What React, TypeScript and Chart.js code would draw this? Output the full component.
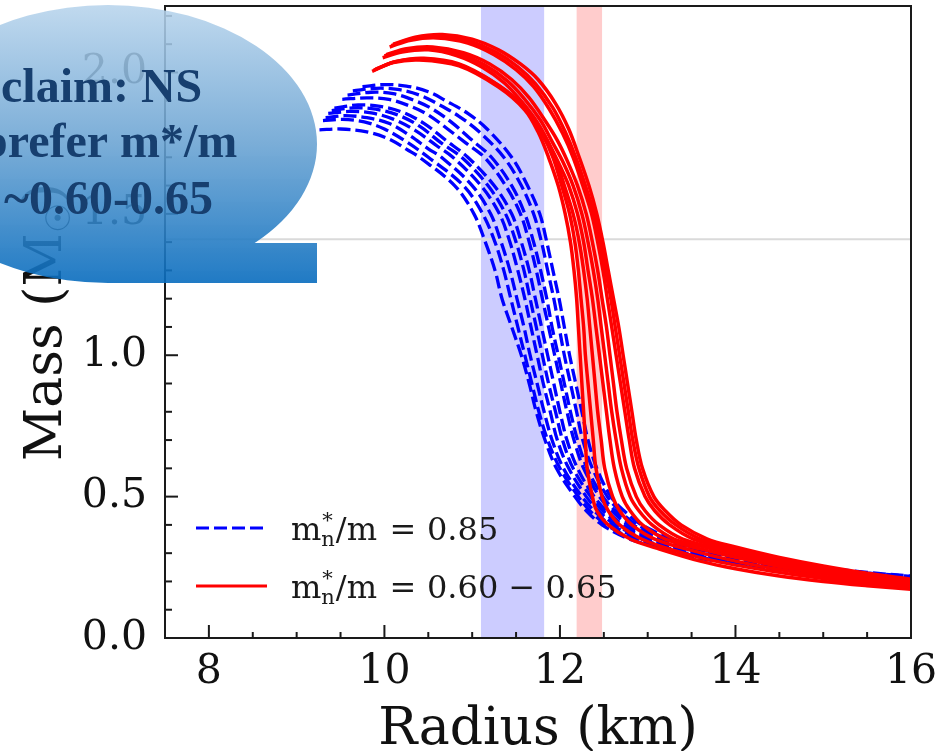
import React, { useEffect, useRef } from "react";
import { Chart, registerables } from "chart.js";

Chart.register(...registerables);

type Pt = [number, number];

// Mass-radius sequences (radius in km, mass in solar masses), m*_n/m = 0.85
const blue1: Pt[] = [
  [9.75, 1.95], [10.0, 1.957], [10.25, 1.952], [10.5, 1.932], [10.7, 1.9], [10.95, 1.855], [11.17, 1.8],
  [11.45, 1.7], [11.63, 1.6], [11.77, 1.5], [11.85, 1.4], [11.92, 1.3], [11.99, 1.2], [12.05, 1.1],
  [12.11, 1.0], [12.18, 0.9], [12.25, 0.8], [12.32, 0.7], [12.42, 0.6], [12.58, 0.5], [12.73, 0.45],
  [12.93, 0.4], [13.5, 0.322], [14.0, 0.29], [14.5, 0.267], [15.0, 0.248], [15.5, 0.232], [16.0, 0.219],
];
const blue2: Pt[] = [
  [9.64, 1.935], [9.9, 1.944], [10.15, 1.94], [10.4, 1.92], [10.6, 1.89], [10.85, 1.845], [11.08, 1.79],
  [11.36, 1.7], [11.56, 1.6], [11.7, 1.5], [11.79, 1.4], [11.86, 1.3], [11.93, 1.2], [11.99, 1.1],
  [12.05, 1.0], [12.12, 0.9], [12.19, 0.8], [12.26, 0.7], [12.37, 0.6], [12.54, 0.5], [12.68, 0.45],
  [12.88, 0.4], [13.5, 0.318], [14.0, 0.287], [14.5, 0.264], [15.0, 0.246], [15.5, 0.23], [16.0, 0.218],
];
const blue3: Pt[] = [
  [9.58, 1.92], [9.85, 1.93], [10.1, 1.925], [10.35, 1.9], [10.55, 1.87], [10.78, 1.82], [11.0, 1.76],
  [11.22, 1.7], [11.45, 1.6], [11.6, 1.5], [11.7, 1.4], [11.78, 1.3], [11.85, 1.2], [11.91, 1.1],
  [11.98, 1.0], [12.05, 0.9], [12.12, 0.8], [12.2, 0.7], [12.31, 0.6], [12.49, 0.5], [12.63, 0.45],
  [12.83, 0.4], [13.5, 0.314], [14.0, 0.284], [14.5, 0.262], [15.0, 0.244], [15.5, 0.229], [16.0, 0.216],
];
const blue4: Pt[] = [
  [9.52, 1.905], [9.8, 1.91], [10.05, 1.905], [10.3, 1.88], [10.5, 1.85], [10.72, 1.8], [10.93, 1.75],
  [11.14, 1.7], [11.38, 1.6], [11.55, 1.5], [11.65, 1.4], [11.73, 1.3], [11.8, 1.2], [11.87, 1.1],
  [11.94, 1.0], [12.01, 0.9], [12.08, 0.8], [12.16, 0.7], [12.27, 0.6], [12.45, 0.5], [12.59, 0.45],
  [12.78, 0.4], [13.0, 0.367], [13.5, 0.311], [14.0, 0.281], [14.5, 0.259], [15.0, 0.242], [15.5, 0.227],
  [16.0, 0.215],
];
const blue5: Pt[] = [
  [9.43, 1.874], [9.7, 1.885], [9.95, 1.88], [10.2, 1.86], [10.45, 1.82], [10.7, 1.76],
  [10.95, 1.7], [11.25, 1.6], [11.45, 1.5], [11.56, 1.4], [11.65, 1.3], [11.72, 1.2], [11.79, 1.1],
  [11.86, 1.0], [11.93, 0.9], [12.0, 0.8], [12.08, 0.7], [12.2, 0.6], [12.39, 0.5], [12.53, 0.45],
  [12.72, 0.4], [13.0, 0.36], [13.5, 0.307], [14.0, 0.278], [14.5, 0.256], [15.0, 0.24], [15.5, 0.226],
  [16.0, 0.213],
];
const blue6: Pt[] = [
  [9.4, 1.865], [9.65, 1.875], [9.9, 1.87], [10.15, 1.85], [10.4, 1.81], [10.65, 1.75],
  [10.88, 1.7], [11.18, 1.6], [11.38, 1.5], [11.5, 1.4], [11.59, 1.3], [11.66, 1.2], [11.73, 1.1],
  [11.8, 1.0], [11.87, 0.9], [11.95, 0.8], [12.03, 0.7], [12.15, 0.6], [12.35, 0.5], [12.49, 0.45],
  [12.68, 0.4], [13.0, 0.354], [13.5, 0.303], [14.0, 0.275], [14.5, 0.254], [15.0, 0.238], [15.5, 0.224],
  [16.0, 0.212],
];
const blue7: Pt[] = [
  [9.36, 1.855], [9.6, 1.862], [9.85, 1.857], [10.1, 1.835], [10.35, 1.795], [10.6, 1.74],
  [10.78, 1.7], [11.1, 1.6], [11.31, 1.5], [11.43, 1.4], [11.52, 1.3], [11.6, 1.2], [11.67, 1.1],
  [11.74, 1.0], [11.81, 0.9], [11.89, 0.8], [11.97, 0.7], [12.1, 0.6], [12.3, 0.5], [12.44, 0.45],
  [12.63, 0.4], [13.0, 0.348], [13.5, 0.299], [14.0, 0.272], [14.5, 0.251], [15.0, 0.236], [15.5, 0.222],
  [16.0, 0.21],
];
const blue8: Pt[] = [
  [9.33, 1.84], [9.55, 1.847], [9.8, 1.84], [10.05, 1.82], [10.3, 1.775], [10.5, 1.73],
  [10.65, 1.7], [11.0, 1.6], [11.21, 1.5], [11.33, 1.4], [11.43, 1.3], [11.51, 1.2], [11.59, 1.1],
  [11.66, 1.0], [11.74, 0.9], [11.82, 0.8], [11.91, 0.7], [12.04, 0.6], [12.25, 0.5], [12.39, 0.45],
  [12.58, 0.4], [13.0, 0.342], [13.5, 0.296], [14.0, 0.268], [14.5, 0.248], [15.0, 0.234], [15.5, 0.22],
  [16.0, 0.208],
];
const blue9: Pt[] = [
  [9.3, 1.83], [9.52, 1.834], [9.77, 1.825], [10.0, 1.8], [10.25, 1.755],
  [10.5, 1.7], [10.9, 1.6], [11.12, 1.5], [11.26, 1.4], [11.36, 1.3], [11.44, 1.2], [11.52, 1.1],
  [11.6, 1.0], [11.68, 0.9], [11.76, 0.8], [11.86, 0.7], [12.0, 0.6], [12.21, 0.5], [12.34, 0.45],
  [12.53, 0.4], [12.77, 0.36], [13.0, 0.336], [13.5, 0.292], [14.0, 0.265], [14.5, 0.246], [15.0, 0.232],
  [15.5, 0.219], [16.0, 0.207],
];
const blue10: Pt[] = [
  [9.26, 1.797], [9.5, 1.8], [9.8, 1.79], [10.05, 1.765], [10.27, 1.725],
  [10.4, 1.7], [10.8, 1.6], [11.02, 1.5], [11.15, 1.4], [11.26, 1.3], [11.34, 1.2], [11.45, 1.1],
  [11.56, 1.0], [11.65, 0.9], [11.73, 0.8], [11.83, 0.7], [11.96, 0.6], [12.17, 0.5], [12.3, 0.45],
  [12.48, 0.4], [12.75, 0.355], [13.0, 0.33], [13.5, 0.288], [14.0, 0.262], [14.5, 0.243], [15.0, 0.23],
  [15.5, 0.217], [16.0, 0.205],
];

// Mass-radius sequences, m*_n/m = 0.60 - 0.65
const red1: Pt[] = [
  [10.1, 2.1], [10.35, 2.125], [10.66, 2.134], [11.0, 2.118], [11.3, 2.08], [11.55, 2.03], [11.75, 1.975],
  [11.95, 1.89], [12.1, 1.8], [12.22, 1.7], [12.33, 1.6], [12.42, 1.5], [12.49, 1.4], [12.55, 1.3],
  [12.61, 1.2], [12.67, 1.1], [12.72, 1.0], [12.77, 0.9], [12.82, 0.8], [12.87, 0.7], [12.94, 0.6],
  [13.07, 0.5], [13.2, 0.45], [13.38, 0.4], [13.68, 0.35], [14.0, 0.322], [14.5, 0.285], [15.0, 0.255],
  [15.5, 0.229], [16.0, 0.208],
];
const red2: Pt[] = [
  [10.08, 2.095], [10.33, 2.12], [10.64, 2.128], [10.98, 2.11], [11.28, 2.07], [11.52, 2.02], [11.72, 1.96],
  [11.92, 1.875], [12.06, 1.79], [12.18, 1.7], [12.29, 1.6], [12.39, 1.5], [12.46, 1.4], [12.52, 1.3],
  [12.58, 1.2], [12.63, 1.1], [12.68, 1.0], [12.73, 0.9], [12.78, 0.8], [12.83, 0.7], [12.9, 0.6],
  [13.02, 0.5], [13.14, 0.45], [13.32, 0.4], [13.6, 0.35], [14.0, 0.317], [14.5, 0.281], [15.0, 0.251],
  [15.5, 0.226], [16.0, 0.205],
];
const red3: Pt[] = [
  [10.06, 2.09], [10.3, 2.114], [10.6, 2.122], [10.95, 2.104], [11.25, 2.063], [11.5, 2.01], [11.7, 1.95],
  [11.88, 1.87], [12.03, 1.785], [12.15, 1.7], [12.26, 1.6], [12.36, 1.5], [12.43, 1.4], [12.49, 1.3],
  [12.54, 1.2], [12.59, 1.1], [12.64, 1.0], [12.69, 0.9], [12.74, 0.8], [12.79, 0.7], [12.85, 0.6],
  [12.97, 0.5], [13.08, 0.45], [13.25, 0.4], [13.52, 0.35], [14.0, 0.311], [14.5, 0.276], [15.0, 0.247],
  [15.5, 0.222], [16.0, 0.202],
];
const red4: Pt[] = [
  [10.02, 2.063], [10.25, 2.084], [10.55, 2.09], [10.9, 2.07], [11.2, 2.03], [11.45, 1.975], [11.65, 1.91],
  [11.83, 1.83], [11.97, 1.76], [12.08, 1.69], [12.2, 1.6], [12.3, 1.5], [12.37, 1.4], [12.43, 1.3],
  [12.48, 1.2], [12.53, 1.1], [12.57, 1.0], [12.61, 0.9], [12.65, 0.8], [12.7, 0.7], [12.76, 0.6],
  [12.87, 0.5], [12.97, 0.45], [13.13, 0.4], [13.4, 0.35], [14.0, 0.302], [14.5, 0.268], [15.0, 0.24],
  [15.5, 0.216], [16.0, 0.197],
];
const red5: Pt[] = [
  [10.0, 2.058], [10.22, 2.078], [10.52, 2.085], [10.85, 2.066], [11.15, 2.025], [11.4, 1.97], [11.6, 1.905],
  [11.78, 1.83], [11.92, 1.75], [12.04, 1.68], [12.15, 1.6], [12.25, 1.5], [12.32, 1.4], [12.38, 1.3],
  [12.43, 1.2], [12.47, 1.1], [12.51, 1.0], [12.55, 0.9], [12.59, 0.8], [12.64, 0.7], [12.7, 0.6],
  [12.8, 0.5], [12.9, 0.45], [13.05, 0.4], [13.3, 0.35], [13.6, 0.325], [14.0, 0.295], [14.5, 0.262],
  [15.0, 0.235], [15.5, 0.212], [16.0, 0.193],
];
const red6: Pt[] = [
  [9.98, 2.052], [10.2, 2.072], [10.5, 2.08], [10.82, 2.06], [11.12, 2.018], [11.37, 1.962], [11.57, 1.895],
  [11.75, 1.82], [11.89, 1.74], [12.0, 1.67], [12.1, 1.6], [12.2, 1.5], [12.27, 1.4], [12.32, 1.3],
  [12.37, 1.2], [12.41, 1.1], [12.45, 1.0], [12.49, 0.9], [12.53, 0.8], [12.57, 0.7], [12.62, 0.6],
  [12.71, 0.5], [12.8, 0.45], [12.94, 0.4], [13.2, 0.35], [13.6, 0.315], [14.0, 0.285], [14.5, 0.253],
  [15.0, 0.228], [15.5, 0.206], [16.0, 0.188],
];
const red7: Pt[] = [
  [9.9, 2.012], [10.15, 2.04], [10.45, 2.05], [10.85, 2.03], [11.25, 1.965], [11.55, 1.89], [11.78, 1.8],
  [11.94, 1.7], [12.05, 1.6], [12.15, 1.5], [12.22, 1.4], [12.27, 1.3], [12.31, 1.2], [12.34, 1.1],
  [12.37, 1.0], [12.4, 0.9], [12.43, 0.8], [12.47, 0.7], [12.51, 0.6], [12.6, 0.5], [12.68, 0.45],
  [12.82, 0.4], [13.08, 0.35], [13.5, 0.31], [14.0, 0.272], [14.5, 0.242], [15.0, 0.218], [15.5, 0.198],
  [16.0, 0.182],
];
const red8: Pt[] = [
  [9.88, 2.008], [10.12, 2.038], [10.42, 2.046], [10.85, 2.026], [11.3, 1.955], [11.6, 1.875], [11.8, 1.78],
  [11.92, 1.7], [12.02, 1.6], [12.11, 1.5], [12.17, 1.4], [12.21, 1.3], [12.24, 1.2], [12.27, 1.1],
  [12.29, 1.0], [12.32, 0.9], [12.35, 0.8], [12.38, 0.7], [12.41, 0.6], [12.48, 0.5], [12.55, 0.45],
  [12.68, 0.4], [12.93, 0.35], [13.3, 0.31], [13.8, 0.27], [14.5, 0.232], [15.0, 0.21], [15.5, 0.192],
  [16.0, 0.177],
];
const red9: Pt[] = [
  [9.86, 2.004], [10.1, 2.035], [10.4, 2.044], [10.85, 2.023], [11.3, 1.948], [11.6, 1.867], [11.75, 1.79],
  [11.87, 1.7], [11.98, 1.6], [12.06, 1.5], [12.12, 1.4], [12.16, 1.3], [12.19, 1.2], [12.21, 1.1],
  [12.23, 1.0], [12.25, 0.9], [12.27, 0.8], [12.29, 0.7], [12.31, 0.6], [12.37, 0.5], [12.42, 0.45],
  [12.55, 0.4], [12.8, 0.35], [13.1, 0.318], [13.6, 0.272], [14.0, 0.245], [14.5, 0.219], [15.0, 0.2],
  [15.5, 0.185], [16.0, 0.172],
];

const blueCurves = [blue1, blue2, blue3, blue4, blue5, blue6, blue7, blue8, blue9, blue10];
const redCurves = [red1, red2, red3, red4, red5, red6, red7, red8, red9];

// Axes
const xLimits = [7.5, 16];
const yLimits = [0, 2.235];
const xMajorTicks = [8, 10, 12, 14, 16];
const yMajorTicks = [0, 0.5, 1.0, 1.5, 2.0];
const xMinorStep = 0.5;
const yMinorStep = 0.1;

// Shaded radius intervals and the reference mass line
const blueBand = [11.1, 11.82];
const redBand = [12.19, 12.48];
const referenceMass = 1.41;

// Legend values and callout text
const legendValues = ["0.85", "0.60 \u2212 0.65"];
const calloutLines = ["claim: NS", "prefer m*/m", "~0.60-0.65"];

const SERIF = "'DejaVu Serif', serif";
const BLUE_DASH = [13, 5];

const decorations = {
  id: "decorations",
  beforeDatasetsDraw(chart: any) {
    const { ctx, chartArea: a, scales } = chart;
    const xs = scales.x;
    const ys = scales.y;
    ctx.save();
    const bandRect = (band: number[], color: string) => {
      const p0 = xs.getPixelForValue(band[0]);
      const p1 = xs.getPixelForValue(band[1]);
      ctx.fillStyle = color;
      ctx.fillRect(p0, a.top, p1 - p0, a.bottom - a.top);
    };
    bandRect(blueBand, "rgba(0,0,255,0.2)");
    bandRect(redBand, "rgba(255,0,0,0.2)");
    const ry = ys.getPixelForValue(referenceMass);
    ctx.strokeStyle = "#dadada";
    ctx.lineWidth = 2;
    ctx.beginPath();
    ctx.moveTo(a.left, ry);
    ctx.lineTo(a.right, ry);
    ctx.stroke();
    ctx.restore();
  },
  afterDatasetsDraw(chart: any) {
    const { ctx, chartArea: a, scales } = chart;
    const xs = scales.x;
    const ys = scales.y;
    ctx.save();

    // frame
    ctx.strokeStyle = "#1a1a1a";
    ctx.lineWidth = 2;
    ctx.strokeRect(a.left, a.top, a.right - a.left, a.bottom - a.top);

    // inward ticks on the left and bottom spines
    const seg = (x0: number, y0: number, x1: number, y1: number) => {
      ctx.beginPath();
      ctx.moveTo(x0, y0);
      ctx.lineTo(x1, y1);
      ctx.stroke();
    };
    for (let i = 1; xLimits[0] + i * xMinorStep < xLimits[1]; i++) {
      const v = xLimits[0] + i * xMinorStep;
      const major = xMajorTicks.some((m) => Math.abs(m - v) < 1e-6);
      const px = xs.getPixelForValue(v);
      seg(px, a.bottom, px, a.bottom - (major ? 13 : 6));
    }
    for (let i = 0; yLimits[0] + i * yMinorStep < yLimits[1]; i++) {
      const v = yLimits[0] + i * yMinorStep;
      const major = yMajorTicks.some((m) => Math.abs(m - v) < 1e-6);
      const py = ys.getPixelForValue(v);
      seg(a.left, py, a.left + (major ? 13 : 7), py);
    }

    // legend
    const lx0 = a.left + 31;
    const lx1 = a.left + 102;
    const rows = [a.bottom - 110, a.bottom - 52];
    ctx.lineWidth = 3.2;
    ctx.strokeStyle = "#0000ff";
    ctx.setLineDash(BLUE_DASH);
    seg(lx0, rows[0], lx1, rows[0]);
    ctx.setLineDash([]);
    ctx.strokeStyle = "#ff0000";
    seg(lx0, rows[1], lx1, rows[1]);

    ctx.fillStyle = "#1a1a1a";
    ctx.textBaseline = "alphabetic";
    ctx.textAlign = "left";
    legendValues.forEach((val, i) => {
      const base = rows[i] + 12;
      let tx = a.left + 126;
      ctx.font = `32px ${SERIF}`;
      ctx.fillText("m", tx, base);
      tx += ctx.measureText("m").width;
      ctx.font = `21px ${SERIF}`;
      const wStar = ctx.measureText("*").width;
      const wN = ctx.measureText("n").width;
      ctx.fillText("*", tx + 1, base - 13);
      ctx.fillText("n", tx, base + 6);
      tx += Math.max(wStar, wN) + 1;
      ctx.font = `32px ${SERIF}`;
      ctx.fillText("/m", tx, base);
      ctx.textAlign = "center";
      ctx.fillText("=", a.left + 238, base);
      ctx.textAlign = "left";
      ctx.fillText(val, a.left + 262, base);
    });

    // axis titles
    ctx.fillStyle = "#111";
    ctx.font = `52px ${SERIF}`;
    ctx.textAlign = "center";
    ctx.fillText("Radius (km)", (a.left + a.right) / 2, 744);

    ctx.translate(61, (a.top + a.bottom) / 2);
    ctx.rotate(-Math.PI / 2);
    ctx.textAlign = "left";
    const head = "Mass (M";
    ctx.font = `52px ${SERIF}`;
    const w1 = ctx.measureText(head).width;
    const w3 = ctx.measureText(")").width;
    ctx.font = `34px ${SERIF}`;
    const w2 = ctx.measureText("\u2609").width;
    let ty = -(w1 + w2 + w3) / 2;
    ctx.font = `52px ${SERIF}`;
    ctx.fillText(head, ty, 0);
    ty += w1;
    ctx.font = `34px ${SERIF}`;
    ctx.fillText("\u2609", ty, 9);
    ty += w2;
    ctx.font = `52px ${SERIF}`;
    ctx.fillText(")", ty, 0);
    ctx.restore();
  },
  afterDraw(chart: any) {
    const { ctx } = chart;
    ctx.save();
    // oval callout with a squared tail toward the lower right
    ctx.beginPath();
    ctx.ellipse(108, 144, 209, 139, 0, 0, Math.PI * 2);
    ctx.rect(108, 243, 209, 40);
    const g = ctx.createLinearGradient(0, 5, 0, 283);
    g.addColorStop(0, "rgba(184,212,236,0.88)");
    g.addColorStop(0.5, "rgba(104,162,210,0.88)");
    g.addColorStop(1, "rgba(8,108,190,0.9)");
    ctx.fillStyle = g;
    ctx.fill("nonzero");

    ctx.fillStyle = "#173f6f";
    ctx.font = "bold 48px 'Liberation Serif', 'Times New Roman', serif";
    ctx.textAlign = "left";
    ctx.textBaseline = "alphabetic";
    ctx.fillText(calloutLines[0], 1, 102);
    ctx.fillText(calloutLines[1], -19, 157);
    ctx.fillText(calloutLines[2], 4, 214);
    ctx.restore();
  },
};

export default function App() {
  const canvasRef = useRef<HTMLCanvasElement | null>(null);

  useEffect(() => {
    const canvas = canvasRef.current;
    if (!canvas) return;

    const datasets: any[] = [];
    redCurves.forEach((curve, i) => {
      datasets.push({
        label: `red ${i + 1}`,
        data: curve.map(([x, y]) => ({ x, y })),
        showLine: true,
        borderColor: "#ff0000",
        borderWidth: 3.5,
        pointRadius: 0,
        tension: 0.35,
      });
    });
    blueCurves.forEach((curve, i) => {
      datasets.push({
        label: `blue ${i + 1}`,
        data: curve.map(([x, y]) => ({ x, y })),
        showLine: true,
        borderColor: "#0000ff",
        borderWidth: 3.3,
        borderDash: BLUE_DASH,
        pointRadius: 0,
        tension: 0.35,
      });
    });

    const chart = new Chart(canvas, {
      type: "scatter",
      data: { datasets },
      plugins: [decorations],
      options: {
        animation: false,
        responsive: false,
        events: [],
        layout: { padding: { top: 6, right: 30, left: 0, bottom: 0 } },
        plugins: { legend: { display: false }, tooltip: { enabled: false } },
        scales: {
          x: {
            type: "linear",
            min: xLimits[0],
            max: xLimits[1],
            afterFit: (s: any) => {
              s.height = 113;
              s.paddingLeft = 0;
              s.paddingRight = 0;
            },
            afterBuildTicks: (s: any) => {
              s.ticks = xMajorTicks.map((v) => ({ value: v }));
            },
            grid: { display: false, drawTicks: false },
            border: { display: false },
            ticks: {
              padding: 10,
              color: "#111",
              font: { family: SERIF, size: 41 },
              callback: (v: any) => String(v),
              maxRotation: 0,
            },
          },
          y: {
            type: "linear",
            min: yLimits[0],
            max: yLimits[1],
            afterFit: (s: any) => {
              s.width = 165;
              s.paddingTop = 0;
              s.paddingBottom = 0;
            },
            afterBuildTicks: (s: any) => {
              s.ticks = yMajorTicks.map((v) => ({ value: v }));
            },
            grid: { display: false, drawTicks: false },
            border: { display: false },
            ticks: {
              padding: 18,
              color: "#111",
              font: { family: SERIF, size: 41 },
              callback: (v: any) => Number(v).toFixed(1),
            },
          },
        },
      },
    });

    return () => chart.destroy();
  }, []);

  return (
    <div style={{ position: "absolute", left: 0, top: 0, width: 941, height: 751, background: "#fff" }}>
      <canvas ref={canvasRef} width={941} height={751} style={{ display: "block" }} />
    </div>
  );
}
